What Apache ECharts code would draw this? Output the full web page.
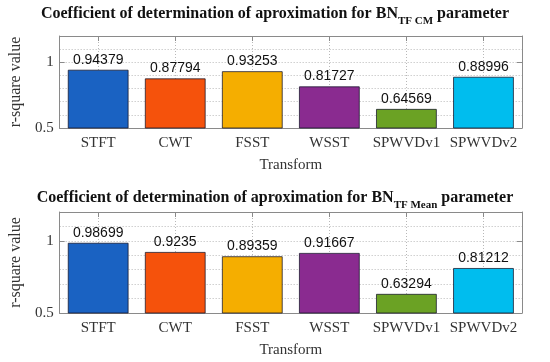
<!DOCTYPE html>
<html>
<head>
<meta charset="utf-8">
<script src="https://cdn.jsdelivr.net/npm/echarts@6/dist/echarts.min.js"></script>
<style>html,body{margin:0;padding:0;background:#fff}#c{width:550px;height:362px}</style>
</head>
<body>
<div id="c"></div>
<script>
var categories = ['STFT', 'CWT', 'FSST', 'WSST', 'SPWVDv1', 'SPWVDv2'];
var cmValues = [0.94379, 0.87794, 0.93253, 0.81727, 0.64569, 0.88996];
var meanValues = [0.98699, 0.9235, 0.89359, 0.91667, 0.63294, 0.81212];
var yTickLabels = [0.5, 1];
var palette = ['#1a62c2', '#f5520c', '#f5ae00', '#8a2b90', '#6ba224', '#00bdee'];

var SERIF = '"Liberation Serif", "DejaVu Serif", serif';
var SANS = '"Liberation Sans", Arial, sans-serif';
var AX = '#8a8a8a';
var GRIDC = '#b8b8b8';
var DASH = [1, 2];

function titleOpt(sub, top) {
  return {
    text: '{a|Coefficient of determination of aproximation for BN}{s|' + sub + '}{a| parameter}',
    left: 'center', top: top, padding: 0,
    textStyle: {
      rich: {
        a: { fontFamily: SERIF, fontSize: 16, fontWeight: 'bold', color: '#111', lineHeight: 26, verticalAlign: 'middle' },
        s: { fontFamily: SERIF, fontSize: 11, fontWeight: 'bold', color: '#111', lineHeight: 12, verticalAlign: 'bottom' }
      }
    }
  };
}

function xAxes(gi) {
  return [{
    type: 'category', gridIndex: gi, data: categories, position: 'bottom',
    name: 'Transform', nameLocation: 'middle', nameGap: 30,
    nameTextStyle: { fontFamily: SERIF, fontSize: 15, color: '#333' },
    axisLine: { show: true, lineStyle: { color: AX } },
    axisTick: { show: true, alignWithLabel: true, inside: true, length: 5, interval: 0, lineStyle: { color: AX } },
    axisLabel: { fontFamily: SERIF, fontSize: 15, color: '#333', margin: 8, interval: 0 },
    splitLine: { show: false }
  }, {
    type: 'value', gridIndex: gi, min: 0.5, max: 6.5, position: 'top',
    axisLine: { show: true, onZero: false, lineStyle: { color: AX } },
    axisTick: { show: true, inside: true, length: 5, lineStyle: { color: AX } },
    axisLabel: { show: false },
    splitLine: { show: true, lineStyle: { color: GRIDC, type: DASH, width: 1 } }
  }];
}

function yAxes(gi) {
  var base = {
    type: 'value', gridIndex: gi, min: 0.5, max: 1.2, interval: 0.5,
    minorTick: { show: true, splitNumber: 5, length: 0, lineStyle: { color: 'rgba(0,0,0,0)' } },
    axisTick: { show: true, inside: true, length: 5, lineStyle: { color: AX } },
    axisLine: { show: true, onZero: false, lineStyle: { color: AX } }
  };
  var left = Object.assign({}, base, {
    position: 'left',
    name: 'r-square value', nameLocation: 'middle', nameGap: 32,
    nameTextStyle: { fontFamily: SERIF, fontSize: 16, color: '#333' },
    axisLabel: {
      fontFamily: SERIF, fontSize: 15, color: '#333', margin: 6, showMaxLabel: false,
      formatter: function (v) { var r = Math.round(v * 100) / 100; return yTickLabels.indexOf(r) >= 0 ? String(r) : ''; }
    },
    splitLine: { show: true, lineStyle: { color: GRIDC, type: DASH } },
    minorSplitLine: { show: true, lineStyle: { color: GRIDC, type: DASH } }
  });
  var right = Object.assign({}, base, {
    position: 'right',
    minorTick: { show: false },
    axisLabel: { show: false },
    splitLine: { show: false }
  });
  return [left, right];
}

function barSeries(values, gi) {
  return {
    type: 'bar', xAxisIndex: gi * 2, yAxisIndex: gi * 2, data: values, barWidth: '79%',
    itemStyle: {
      color: function (p) { return palette[p.dataIndex]; },
      borderColor: 'rgba(20,20,40,0.75)', borderWidth: 1
    },
    label: {
      show: true, position: 'top', distance: 3,
      fontFamily: SANS, fontSize: 14, color: '#111',
      formatter: function (p) { return String(p.value); }
    },
    animation: false
  };
}

var chart = echarts.init(document.getElementById('c'), null, { renderer: 'canvas' });
chart.setOption({
  animation: false,
  title: [titleOpt('TF CM', 1), titleOpt('TF Mean', 185)],
  grid: [
    { left: 54, right: 28, top: 36, height: 92 },
    { left: 54, right: 28, top: 212, height: 101 }
  ],
  xAxis: xAxes(0).concat(xAxes(1)),
  yAxis: yAxes(0).concat(yAxes(1)),
  series: [barSeries(cmValues, 0), barSeries(meanValues, 1)]
});
</script>
</body>
</html>
